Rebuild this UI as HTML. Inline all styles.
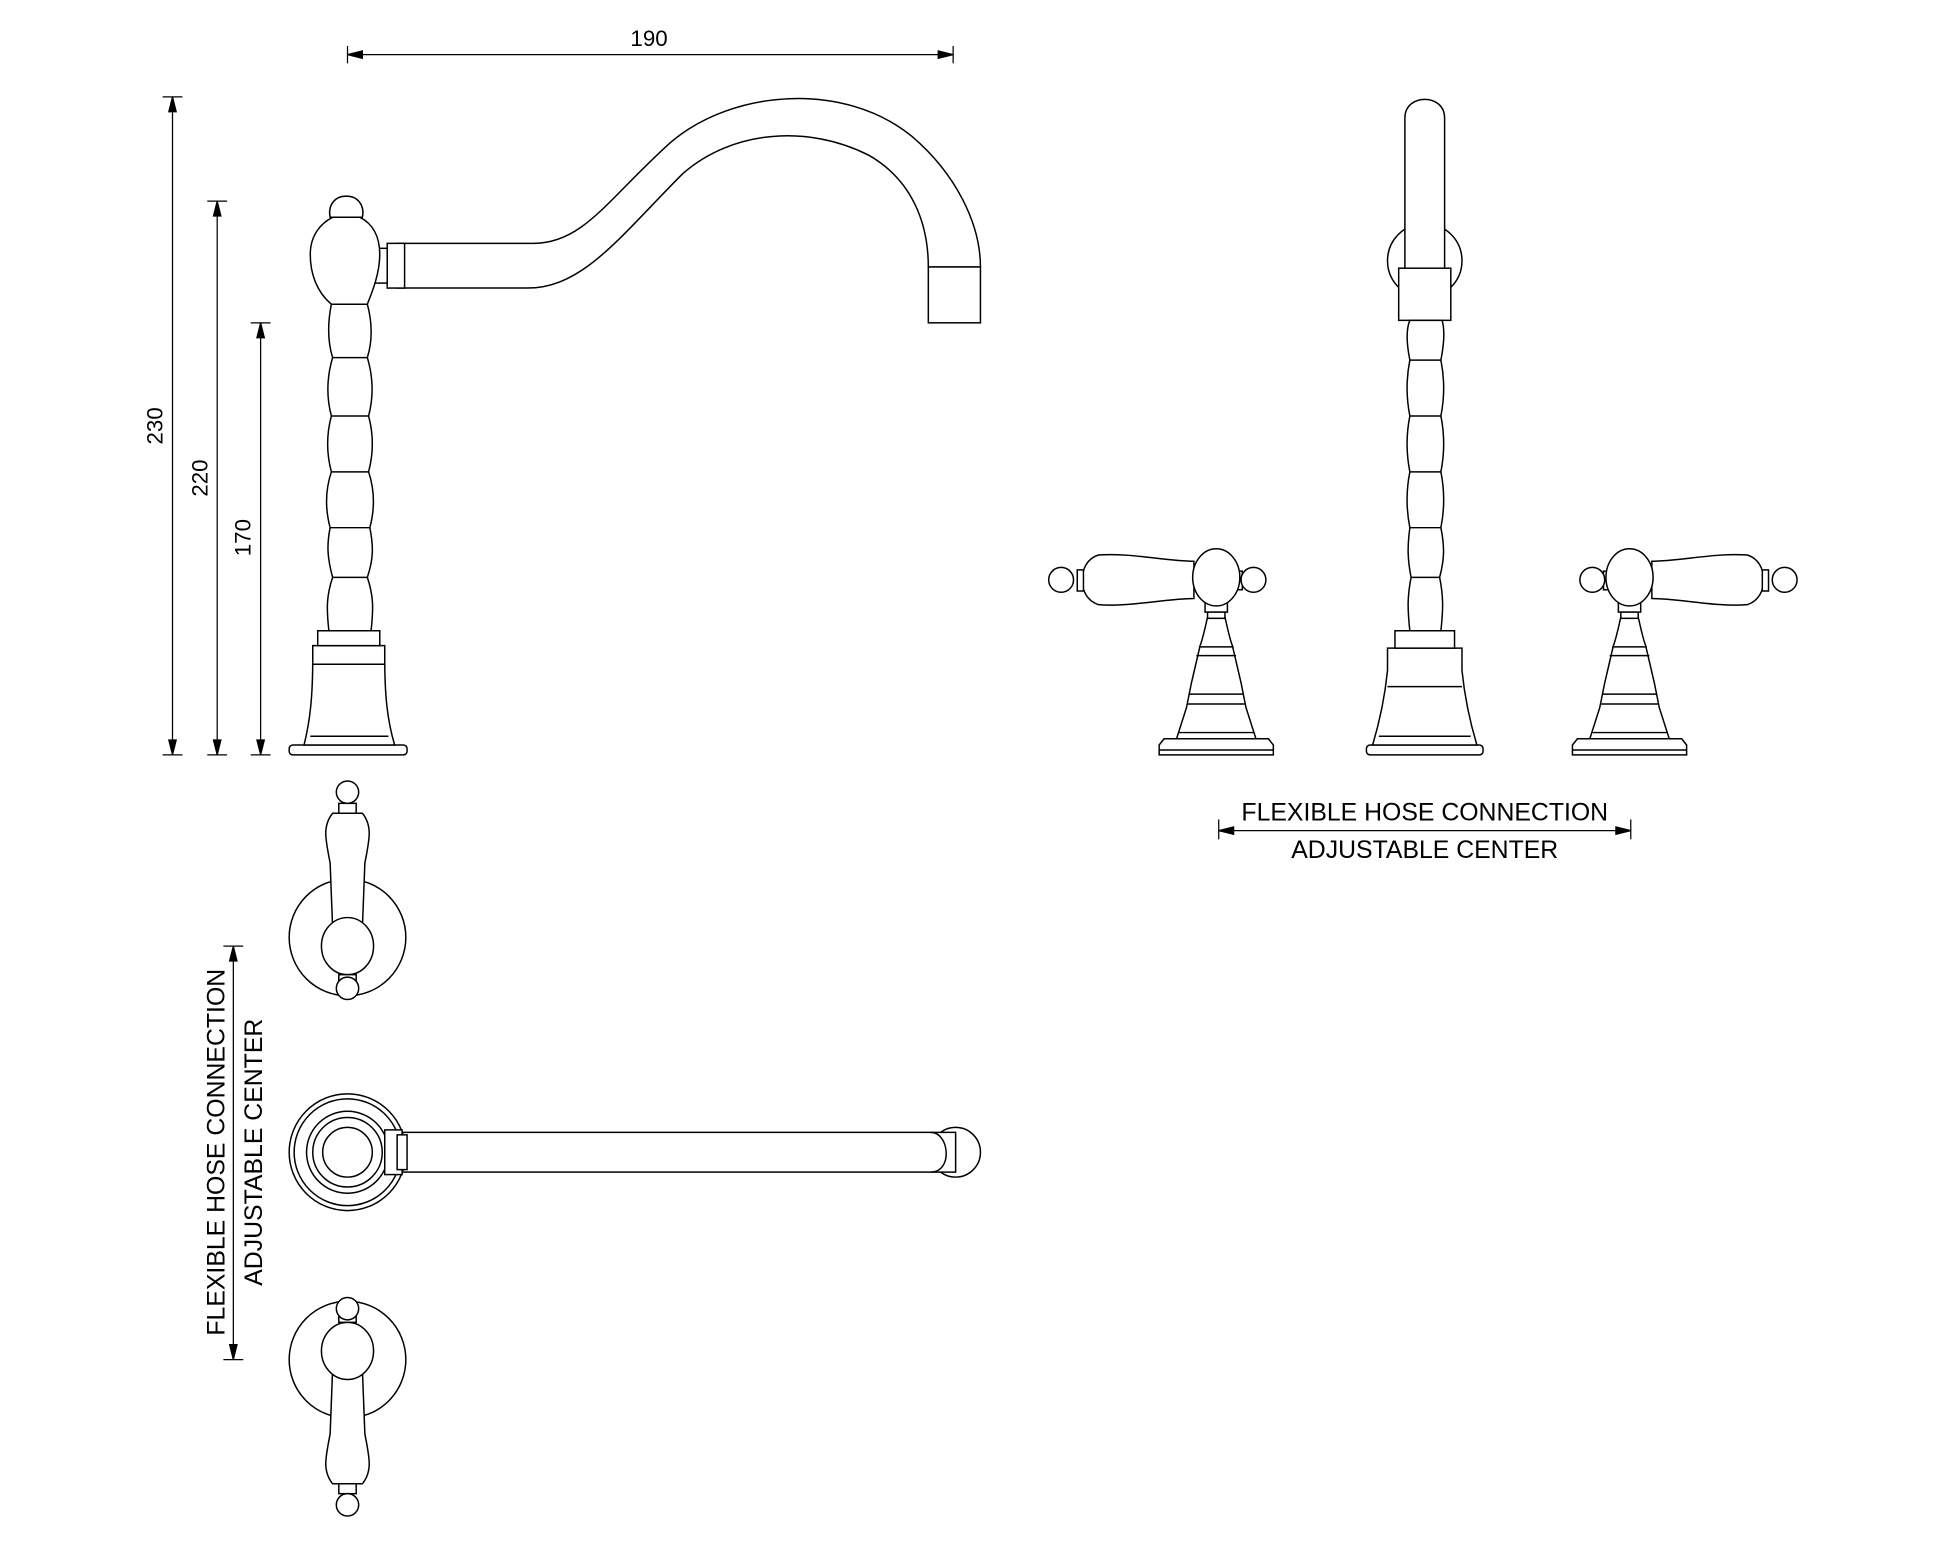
<!DOCTYPE html>
<html><head><meta charset="utf-8"><style>html,body{margin:0;padding:0;background:#fff}svg{display:block}</style></head>
<body>
<svg width="1946" height="1557" viewBox="0 0 1568 1254" preserveAspectRatio="none" xmlns="http://www.w3.org/2000/svg">
<defs>
<g id="hdl" fill="#fff" stroke="#000" stroke-width="1.2">
  <path d="M-46,600 L-42,595 L42,595 L46,600 L46,608 L-46,608 Z"/>
  <line x1="-46" y1="604" x2="46" y2="604"/>
  <path d="M-7,497 L7,497 C10,510 11,515 13,520 L20,550 L24,570 L32,595 L-32,595 L-24,570 L-20,550 L-13,520 C-11,515 -10,510 -7,497 Z"/>
  <line x1="-14" y1="521" x2="14" y2="521"/>
  <line x1="-16" y1="528" x2="16" y2="528"/>
  <line x1="-22" y1="559" x2="22" y2="559"/>
  <line x1="-23" y1="567" x2="23" y2="567"/>
  <line x1="-30" y1="590" x2="30" y2="590"/>
  <rect x="-9" y="484" width="18" height="9"/>
  <rect x="-7" y="493" width="14" height="5"/>
  <path d="M-18,452 C-40,452 -70,445 -95,447 C-104,450 -108,458 -108,467 C-108,476 -104,484 -95,487 C-70,489 -40,482 -18,482 Z"/>
  <rect x="-112" y="459" width="5" height="17"/>
  <circle cx="-125" cy="467" r="10"/>
  <rect x="16" y="460" width="5" height="15"/>
  <circle cx="30" cy="467" r="10"/>
  <ellipse cx="0" cy="465" rx="19" ry="23"/>
</g>
<g id="topv" fill="#fff" stroke="#000" stroke-width="1.2">
  <circle cx="0" cy="0" r="47"/>
  <path d="M-12,-8 L-14,-60 C-18,-80 -20,-90 -12,-100 L12,-100 C20,-90 18,-80 14,-60 L12,-8 Z"/>
  <rect x="-7" y="-108" width="14" height="8"/>
  <circle cx="0" cy="-117" r="9"/>
  <ellipse cx="0" cy="7" rx="21" ry="23"/>
  <rect x="-7" y="30" width="14" height="5"/>
  <circle cx="0" cy="41" r="9"/>
</g>
</defs>
<g font-family="Liberation Sans, sans-serif" font-size="18" fill="#000" stroke="none">
<text x="523" y="37" text-anchor="middle">190</text>
<text transform="translate(131,343) rotate(-90)" text-anchor="middle">230</text>
<text transform="translate(167,385) rotate(-90)" text-anchor="middle">220</text>
<text transform="translate(202,433) rotate(-90)" text-anchor="middle">170</text>
<g font-size="20">
<text x="1148" y="661" text-anchor="middle">FLEXIBLE HOSE CONNECTION</text>
<text x="1148" y="691" text-anchor="middle">ADJUSTABLE CENTER</text>
<text transform="translate(181,928) rotate(-90)" text-anchor="middle">FLEXIBLE HOSE CONNECTION</text>
<text transform="translate(211,928) rotate(-90)" text-anchor="middle">ADJUSTABLE CENTER</text>
</g>
</g>
<g stroke="#000" stroke-width="1" fill="none">
<line x1="280" y1="44" x2="768" y2="44"/><line x1="280" y1="37" x2="280" y2="51"/><line x1="768" y1="37" x2="768" y2="51"/>
<path d="M280,44 l12,-3 v6z M768,44 l-12,-3 v6z" fill="#000"/>
<line x1="139" y1="78" x2="139" y2="608"/><line x1="131" y1="78" x2="147" y2="78"/><line x1="131" y1="608" x2="147" y2="608"/>
<line x1="175" y1="162" x2="175" y2="608"/><line x1="167" y1="162" x2="183" y2="162"/><line x1="167" y1="608" x2="183" y2="608"/>
<line x1="210" y1="260" x2="210" y2="608"/><line x1="202" y1="260" x2="218" y2="260"/><line x1="202" y1="608" x2="218" y2="608"/>
<path d="M139,78 l-3,12 h6z M139,608 l-3,-12 h6z M175,162 l-3,12 h6z M175,608 l-3,-12 h6z M210,260 l-3,12 h6z M210,608 l-3,-12 h6z" fill="#000"/>
<line x1="982" y1="669" x2="1314" y2="669"/><line x1="982" y1="660" x2="982" y2="676"/><line x1="1314" y1="660" x2="1314" y2="676"/>
<path d="M982,669 l12,-3 v6z M1314,669 l-12,-3 v6z" fill="#000"/>
<line x1="188" y1="762" x2="188" y2="1095"/><line x1="180" y1="762" x2="196" y2="762"/><line x1="180" y1="1095" x2="196" y2="1095"/>
<path d="M188,762 l-3,12 h6z M188,1095 l-3,-12 h6z" fill="#000"/>
</g>
<!-- left side faucet -->
<g fill="#fff" stroke="#000" stroke-width="1.2">
<path d="M320,196 L430,196 C470,196 490,160 540,115 C590,72 680,65 735,110 C770,140 790,180 790,215 L748,215 C748,180 735,145 700,125 C650,100 590,105 550,140 C500,190 470,232 425,232 L320,232 Z"/>
<rect x="748" y="215" width="42" height="45"/>
<rect x="312" y="196" width="14" height="36"/>
<rect x="302" y="200" width="10" height="28"/>
<rect x="233" y="600" width="95" height="8" rx="3"/>
<path d="M245,600 C250,580 252,560 252,530 L252,520 L310,520 L310,530 C310,560 312,580 318,600 Z"/>
<line x1="250" y1="593" x2="313" y2="593"/>
<line x1="252" y1="535" x2="310" y2="535"/>
<rect x="256" y="508" width="50" height="12"/>
<path d="M265,508 C263,490 263,480 268,465 C264,450 263,440 266,425 C262,410 262,395 267,380 C263,365 263,350 267,335 C263,320 263,305 268,288 C264,275 264,260 267,245 L296,245 C300,260 300,275 296,288 C301,305 301,320 297,335 C301,350 301,365 297,380 C302,395 302,410 298,425 C301,440 301,450 296,465 C301,480 301,490 299,508 Z"/>
<path d="M268,465 L296,465 M266,425 L298,425 M267,380 L297,380 M267,335 L297,335 M268,288 L296,288"/>
<path d="M267,245 C255,235 250,220 250,205 C250,190 258,180 268,175 L290,175 C300,180 306,190 306,205 C306,220 300,235 296,245 Z"/>
<path d="M266,175 C264,165 270,158 279,158 C288,158 294,165 292,175 Z"/>
</g>
<!-- right front faucet -->
<g fill="#fff" stroke="#000" stroke-width="1.2">
<circle cx="1148" cy="210" r="30"/>
<path d="M1132,216 L1132,95 C1132,75 1164,75 1164,95 L1164,216 Z"/>
<rect x="1127" y="216" width="42" height="42"/>
<rect x="1101" y="600" width="94" height="8" rx="3"/>
<path d="M1106,600 C1112,580 1116,560 1118,540 L1118,522 L1178,522 L1178,540 C1180,560 1184,580 1190,600 Z"/>
<line x1="1118" y1="553" x2="1178" y2="553"/>
<line x1="1111" y1="593" x2="1185" y2="593"/>
<rect x="1124" y="508" width="48" height="14"/>
<path d="M1136,508 C1134,490 1134,480 1137,465 C1134,450 1134,440 1136,425 C1133,410 1133,395 1136,380 C1133,365 1133,350 1136,335 C1133,320 1133,305 1136,290 C1133,275 1133,265 1136,258 L1162,258 C1164,265 1164,275 1161,290 C1164,305 1164,320 1161,335 C1164,350 1164,365 1161,380 C1164,395 1164,410 1161,425 C1164,440 1164,450 1160,465 C1163,480 1163,490 1161,508 Z"/>
<path d="M1137,465 L1160,465 M1136,425 L1161,425 M1136,380 L1161,380 M1136,335 L1161,335 M1136,290 L1161,290"/>
</g>
<use href="#hdl" transform="translate(980,0)"/>
<use href="#hdl" transform="translate(1313,0) scale(-1,1)"/>
<!-- top views -->
<use href="#topv" transform="translate(280,755)"/>
<use href="#topv" transform="translate(280,1095) scale(1,-1)"/>
<g fill="#fff" stroke="#000" stroke-width="1.2">
<circle cx="770" cy="928" r="20"/>
<rect x="320" y="912" width="450" height="32"/>
<path d="M750,912 C765,912 768,944 750,944" fill="none"/>
<circle cx="280" cy="928" r="47"/>
<circle cx="280" cy="928" r="43"/>
<circle cx="280" cy="928" r="33"/>
<circle cx="280" cy="928" r="28"/>
<circle cx="280" cy="928" r="20"/>
<rect x="310" y="910" width="14" height="36"/>
<rect x="320" y="914" width="8" height="28"/>
</g>
</svg>
</body></html>
